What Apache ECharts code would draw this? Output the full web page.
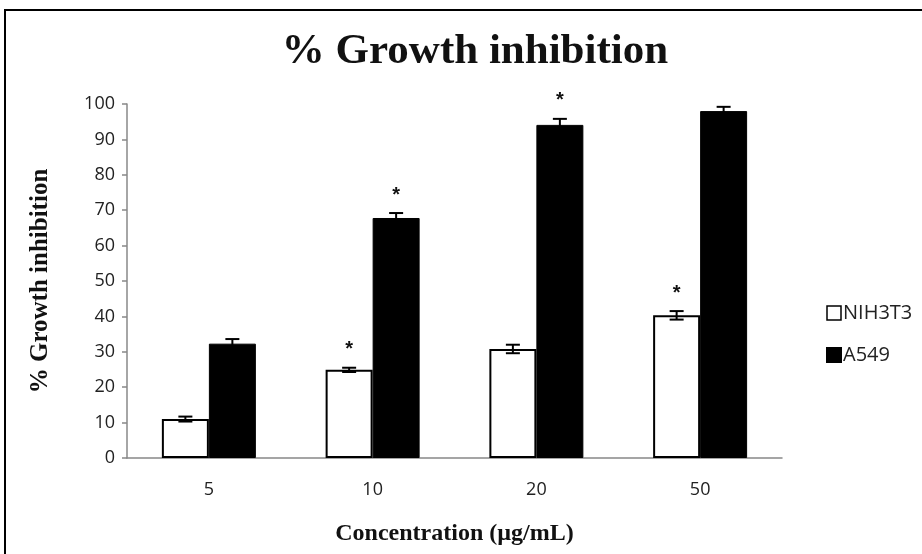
<!DOCTYPE html>
<html>
<head>
<meta charset="utf-8">
<script src="https://cdn.jsdelivr.net/npm/echarts@6/dist/echarts.min.js"></script>
<style>html,body{margin:0;padding:0;background:#fff}#c{width:922px;height:554px}</style>
</head>
<body>
<div id="c"></div>
<script>
const categories = ['5', '10', '20', '50'];
const nih3t3 = [11.0, 24.9, 30.8, 40.3];
const nih3t3Err = [0.7, 0.6, 1.2, 1.2];
const nih3t3Sig = [false, true, false, true];
const a549 = [32.3, 67.8, 94.1, 98.0];
const a549Err = [1.3, 1.4, 1.7, 1.2];
const a549Sig = [false, true, true, false];
const yTicks = [0, 10, 20, 30, 40, 50, 60, 70, 80, 90, 100];

const BAR_PCT = 0.287;

function errSeries(name, vals, errs, sig, side) {
  return {
    type: 'custom',
    name: name + ' err',
    z: 5,
    silent: true,
    data: vals.map((v, i) => [i, v, errs[i], sig[i] ? 1 : 0]),
    renderItem: function (params, api) {
      const i = api.value(0), v = api.value(1), e = api.value(2), s = api.value(3);
      const band = api.size([1, 0])[0];
      const bw = band * BAR_PCT;
      const c = api.coord([i, v]);
      const x = c[0] + side * bw / 2;
      const top = api.coord([i, v + e])[1];
      const bot = api.coord([i, v - e])[1];
      const hw = 7;
      const children = [
        { type: 'line', shape: { x1: x, y1: top, x2: x, y2: bot }, style: { stroke: '#000', lineWidth: 2 } },
        { type: 'line', shape: { x1: x - hw, y1: top, x2: x + hw, y2: top }, style: { stroke: '#000', lineWidth: 2 } },
        { type: 'line', shape: { x1: x - hw, y1: bot, x2: x + hw, y2: bot }, style: { stroke: '#000', lineWidth: 2 } }
      ];
      if (s) {
        children.push({ type: 'text', style: { text: '*', x: x, y: top - 18, align: 'center', verticalAlign: 'middle', font: 'bold 20px "Liberation Sans"', fill: '#111' } });
      }
      return { type: 'group', children: children };
    }
  };
}

const chart = echarts.init(document.getElementById('c'));
chart.setOption({
  animation: false,
  backgroundColor: '#fff',
  title: {
    text: '% Growth inhibition',
    left: 470, top: 25, textAlign: 'center',
    textStyle: { fontFamily: 'Liberation Serif', fontWeight: 'bold', fontSize: 43, color: '#111' }
  },
  graphic: [{
    type: 'rect', shape: { x: 5, y: 10, width: 940, height: 560 },
    style: { fill: 'none', stroke: '#000', lineWidth: 2 }, silent: true
  }],
  legend: {
    orient: 'vertical', left: 821, top: 298, itemGap: 22,
    itemWidth: 14, itemHeight: 14, icon: 'rect',
    textStyle: { fontFamily: 'Open Sans', fontSize: 20, color: '#222', padding: [0, 0, 0, -3] },
    data: [
      { name: 'NIH3T3', itemStyle: { color: '#fff', borderColor: '#000', borderWidth: 1.5 } },
      { name: 'A549', itemStyle: { color: '#000' } }
    ]
  },
  grid: { left: 127, right: 140, top: 104, bottom: 96 },
  xAxis: {
    type: 'category', data: categories,
    name: 'Concentration (µg/mL)', nameLocation: 'middle', nameGap: 64,
    nameTextStyle: { fontFamily: 'Liberation Serif', fontWeight: 'bold', fontSize: 24, color: '#111' },
    axisLine: { lineStyle: { color: '#888', width: 1.5 } },
    axisTick: { length: 9, lineStyle: { color: '#888', width: 1.5 } },
    axisLabel: { fontFamily: 'Open Sans', fontSize: 18, color: '#222', margin: 23 }
  },
  yAxis: {
    type: 'value', min: 0, max: 100, interval: 10,
    name: '% Growth inhibition', nameLocation: 'middle', nameGap: 74, nameRotate: 90,
    nameTextStyle: { fontFamily: 'Liberation Serif', fontWeight: 'bold', fontSize: 25, color: '#111' },
    axisLine: { show: true, lineStyle: { color: '#888', width: 1.5 } },
    axisTick: { show: true, length: 5, lineStyle: { color: '#888', width: 1.5 } },
    splitLine: { show: false },
    axisLabel: {
      fontFamily: 'Open Sans', fontSize: 18, color: '#222', margin: 12,
      formatter: function (v) { return yTicks.indexOf(v) >= 0 ? String(v) : ''; }
    }
  },
  series: [
    {
      name: 'NIH3T3', type: 'bar', data: nih3t3, barWidth: (BAR_PCT * 100) + '%', barGap: '0%',
      itemStyle: { color: '#fff', borderColor: '#000', borderWidth: 2 }
    },
    {
      name: 'A549', type: 'bar', data: a549, barWidth: (BAR_PCT * 100) + '%', barGap: '0%',
      itemStyle: { color: '#000', borderColor: '#000', borderWidth: 1 }
    },
    errSeries('NIH3T3', nih3t3, nih3t3Err, nih3t3Sig, -1),
    errSeries('A549', a549, a549Err, a549Sig, 1)
  ]
});
</script>
</body>
</html>
